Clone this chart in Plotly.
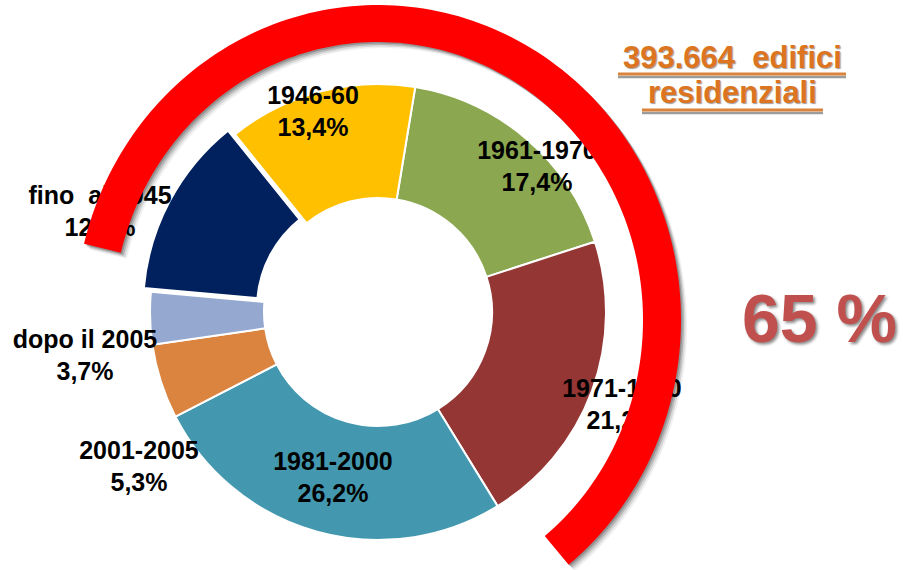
import numpy as np
import plotly.graph_objects as go

# ---------------- data ----------------
categories = ["1961-1970", "1971-1980", "1981-2000", "2001-2005",
              "dopo il 2005", "fino\u00a0 al 1945", "1946-60"]
shares = [17.4, 21.2, 26.2, 5.3, 3.7, 12.8, 13.4]
total_buildings = "393.664"
share_highlight = "65 %"

# ---------------- styles / layout ----------------
W, H = 903, 570
colors = ["#8BA74F", "#943634", "#4398AF", "#DA8440",
          "#95A9D0", "#00205E", "#FFC000"]
pulls = [0, 0, 0, 0, 0, 0.035, 0]

# pie geometry (pixels)
pcx, pcy, pr = 378, 312, 228
R_dom = pr * (1 + max(pulls))
dom_x = [(pcx - R_dom) / W, (pcx + R_dom) / W]
dom_y = [(H - pcy - R_dom) / H, (H - pcy + R_dom) / H]

# label positions (pixel coords, centre of the text block)
label_pos = [(537, 164), (622, 402), (333, 475), (139, 464),
             (85, 353), (100, 209), (313, 109)]

fig = go.Figure()

fig.add_trace(go.Pie(
    labels=categories, values=shares, sort=False, direction="clockwise",
    rotation=9.4, hole=0.5, pull=pulls,
    marker=dict(colors=colors, line=dict(color="white", width=2)),
    textinfo="none", hoverinfo="skip", domain=dict(x=dom_x, y=dom_y),
    showlegend=False,
))
# invisible cartesian trace so the pixel-like axes exist
fig.add_trace(go.Scatter(x=[0, W], y=[0, H], mode="markers",
                         marker=dict(opacity=0), hoverinfo="skip", showlegend=False))

label_text = ["<b>%s<br>%s%%</b>" % (c, ("%.1f" % v).replace(".", ","))
              for c, v in zip(categories, shares)]

shapes = []
# slice labels as shape labels (so the red arc can cover them)
for (lx, ly), t in zip(label_pos, label_text):
    shapes.append(dict(type="rect", x0=lx - 90, x1=lx + 90, y0=ly - 35, y1=ly + 35,
                       xref="x", yref="y", line=dict(width=0),
                       fillcolor="rgba(0,0,0,0)", layer="above",
                       label=dict(text=t, textposition="middle center",
                                  font=dict(family="Liberation Sans, Arial, sans-serif",
                                            size=25, color="black"))))

# ---------------- red arc ----------------
acx, acy = 378, 320
rxo, ryo, rxi, ryi = 303, 315, 265, 278
th = np.radians(np.linspace(166, -51, 160))

def arc_path(dx=0, dy=0):
    ox = acx + rxo * np.cos(th) + dx
    oy = acy - ryo * np.sin(th) + dy
    ix = acx + rxi * np.cos(th[::-1]) + dx
    iy = acy - ryi * np.sin(th[::-1]) + dy
    xs = np.concatenate([ox, ix])
    ys = np.concatenate([oy, iy])
    d = "M %.2f,%.2f " % (xs[0], ys[0])
    d += " ".join("L %.2f,%.2f" % (a, b) for a, b in zip(xs[1:], ys[1:]))
    return d + " Z"

for off, op in [(6, 0.06), (4.5, 0.1), (3, 0.16), (1.5, 0.2)]:
    shapes.append(dict(type="path", path=arc_path(off, off), xref="x", yref="y",
                       fillcolor="rgba(0,0,0,%.2f)" % op, line=dict(width=0),
                       layer="above"))
shapes.append(dict(type="path", path=arc_path(), xref="x", yref="y",
                   fillcolor="#FF0000", line=dict(width=0), layer="above"))

# underline of the title
for (x0, x1, y) in [(618, 846, 74), (642, 823, 110)]:
    shapes.append(dict(type="line", x0=x0, x1=x1, y0=y + 3, y1=y + 3, xref="x", yref="y",
                       line=dict(color="rgba(90,90,90,0.6)", width=2.5), layer="above"))
    shapes.append(dict(type="line", x0=x0, x1=x1, y0=y, y1=y, xref="x", yref="y",
                       line=dict(color="#D9843A", width=3), layer="above"))

tfont = dict(family="Liberation Sans, Arial, sans-serif", size=31, color="#DC7420",
             shadow="1px 1px 1px rgba(80,80,80,0.55)")
annotations = [
    dict(x=732, y=57, xref="x", yref="y", text="<b>%s\u00a0 edifici</b>" % total_buildings,
         showarrow=False, xanchor="center", yanchor="middle", font=tfont),
    dict(x=732, y=92, xref="x", yref="y", text="<b>residenziali</b>",
         showarrow=False, xanchor="center", yanchor="middle", font=tfont),
    dict(x=819, y=318, xref="x", yref="y", text="<b>%s</b>" % share_highlight,
         showarrow=False, xanchor="center", yanchor="middle",
         font=dict(family="Liberation Sans, Arial, sans-serif", size=68, color="#C0504D",
                   shadow="2px 2px 3px rgba(0,0,0,0.45)")),
]

fig.update_layout(
    width=W, height=H, margin=dict(l=0, r=0, t=0, b=0),
    paper_bgcolor="white", plot_bgcolor="white",
    xaxis=dict(range=[0, W], visible=False, fixedrange=True, domain=[0, 1]),
    yaxis=dict(range=[H, 0], visible=False, fixedrange=True, domain=[0, 1]),
    shapes=shapes, annotations=annotations, showlegend=False,
)

fig.write_html("out.html", config={"displayModeBar": False},
               post_script="document.body.style.margin='0';")
